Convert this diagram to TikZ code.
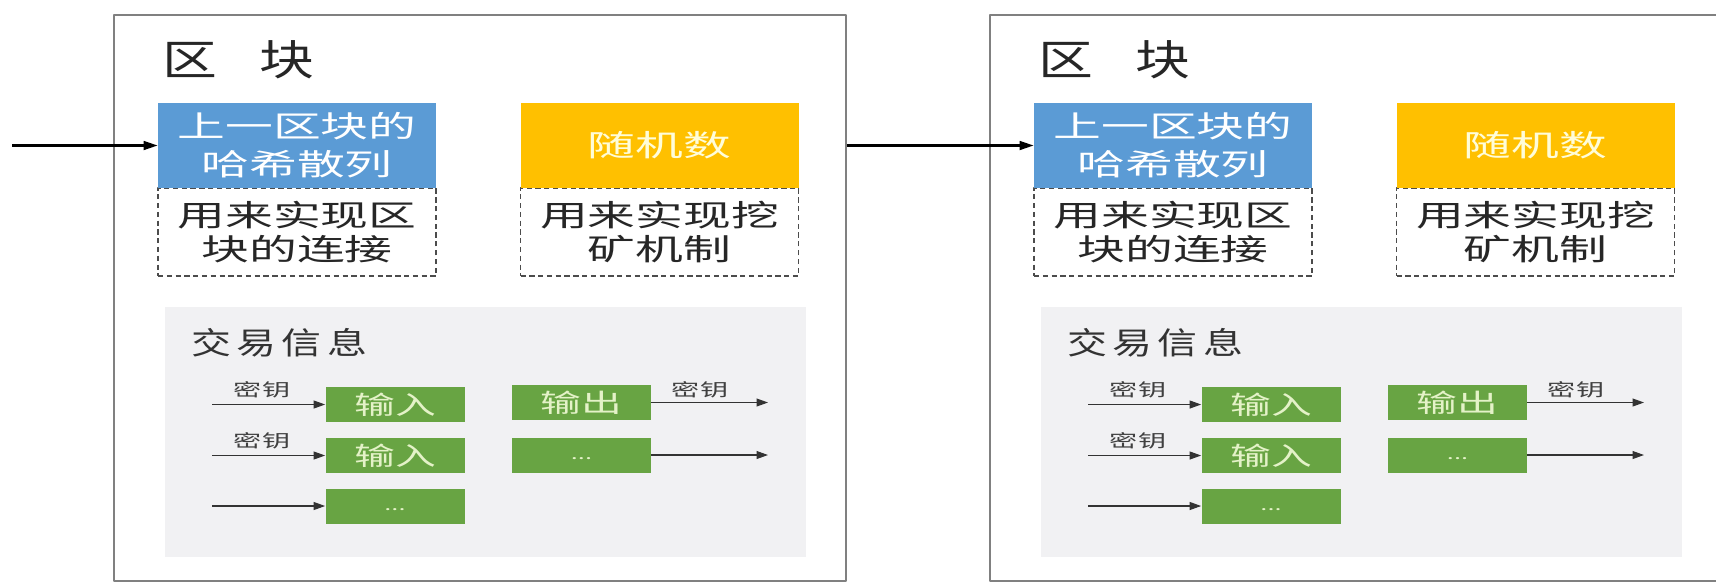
\documentclass[tikz,border=0pt]{standalone}
\usepackage{fontspec}
\usetikzlibrary{arrows.meta}

% CJK fonts, widened like the stretched reference
\newfontfamily\cjk[FakeStretch=1.6]{Noto Sans CJK SC}
\newfontfamily\cjkhead[FakeStretch=1.3]{Noto Sans CJK SC}

\definecolor{framegray}{HTML}{808080}
\definecolor{hashblue}{HTML}{5B9BD5}
\definecolor{nonceyellow}{HTML}{FFC000}
\definecolor{txgreen}{HTML}{68A443}
\definecolor{txtext}{HTML}{E4F2C8}
\definecolor{panelgray}{HTML}{F1F1F3}

% one pixel of the reference
\newlength\px
\setlength\px{0.2mm}

% ellipsis sitting low in a green box
\newcommand\lowdots{\raisebox{-5pt}{\fontsize{9}{9}\selectfont...}}

\tikzset{
  blockframe/.style={draw=framegray, line width=1.3pt, minimum width=732\px, minimum height=566\px, inner sep=0pt},
  blocktitle/.style={text=black!85, font=\cjkhead\fontsize{24}{24}\selectfont, inner sep=0pt},
  fieldbox/.style={minimum width=278\px, minimum height=85\px, inner sep=0pt, align=center},
  hashbox/.style={fieldbox, fill=hashblue, text=white, font=\cjk\fontsize{17}{21.5}\selectfont},
  noncebox/.style={fieldbox, fill=nonceyellow, text=yellow!15, font=\cjk\fontsize{17}{21.5}\selectfont},
  notebox/.style={fieldbox, minimum height=88\px, draw=black!70, line width=0.8pt, dash pattern=on 3pt off 2pt, text=black!85, font=\cjk\fontsize{17}{19.5}\selectfont},
  txpanel/.style={fill=panelgray, minimum width=641\px, minimum height=250\px, inner sep=0pt},
  txhead/.style={text=black!80, font=\cjkhead\fontsize{17.5}{18}\selectfont, inner sep=0pt},
  txbox/.style={fill=txgreen, text=txtext, minimum width=139\px, minimum height=35\px, inner sep=0pt, font=\cjk\fontsize{14.5}{15}\selectfont},
  keylabel/.style={text=black!75, font=\cjk\fontsize{10}{10}\selectfont, inner sep=0pt},
  mainarrow/.style={-{Triangle[length=8pt, width=5pt]}, line width=1.3pt, black},
  keyarrow/.style={-{Triangle[length=6.5pt, width=4.5pt]}, line width=0.6pt, black!80}
}

\begin{document}
\begin{tikzpicture}[x=0.2mm, y=-0.2mm, line join=round]
  % Canvas of the reference size, in pixels
  \useasboundingbox (0,0) rectangle (1716,582);
  \clip (0,0) rectangle (1716,582);

  \foreach \i/\dx in {1/0, 2/876} {
    \begin{scope}[xshift=\dx\px]
      % Block frame and its title
      \node[blockframe] (blk\i) at (480,298) {};
      \node[blocktitle, anchor=west] (title\i) at (162,60) {区\hspace{24pt}块};

      % Header fields, with their notes below
      \node[notebox] (hashnote\i) at (297,232) {用来实现区\\块的连接};
      \node[hashbox] (hash\i) at (297,145.5) {上一区块的\\哈希散列};
      \node[notebox] (noncenote\i) at (659.5,232) {用来实现挖\\矿机制};
      \node[noncebox] (nonce\i) at (659.5,145.5) {随机数};

      % Transaction panel
      \node[txpanel] (tx\i) at (485.5,432) {};
      \node[txhead, anchor=west] (txtitle\i) at (191,343)
        {交\hspace{3pt}易\hspace{3pt}信\hspace{3pt}息};

      % Inputs
      \node[txbox] (inA\i) at (395,404.5) {输入};
      \node[txbox] (inB\i) at (395,455.5) {输入};
      \node[txbox] (inC\i) at (395,506) {\lowdots};
      \coordinate (srcA\i) at (212,404.5);
      \coordinate (srcB\i) at (212,455.5);
      \coordinate (srcC\i) at (212,506);
      \draw[keyarrow] (srcA\i) -- (inA\i);
      \draw[keyarrow] (srcB\i) -- (inB\i);
      \draw[keyarrow] (srcC\i) -- (inC\i);
      \node[keylabel] (keyA\i) at (262,390) {密钥};
      \node[keylabel] (keyB\i) at (262,441) {密钥};

      % Outputs
      \node[txbox] (outA\i) at (581.5,402.5) {输出};
      \node[txbox] (outB\i) at (581.5,455) {\lowdots};
      \coordinate (dstA\i) at (768,402.5);
      \coordinate (dstB\i) at (768,455);
      \draw[keyarrow] (outA\i) -- (dstA\i);
      \draw[keyarrow] (outB\i) -- (dstB\i);
      \node[keylabel] (keyC\i) at (700,390) {密钥};
    \end{scope}
  }

  % Chain links between the blocks
  \coordinate (chainstart) at (12,145.5);
  \draw[mainarrow] (chainstart) -- (hash1);
  \draw[mainarrow] (blk1.east |- hash2.west) -- (hash2);
\end{tikzpicture}
\end{document}
